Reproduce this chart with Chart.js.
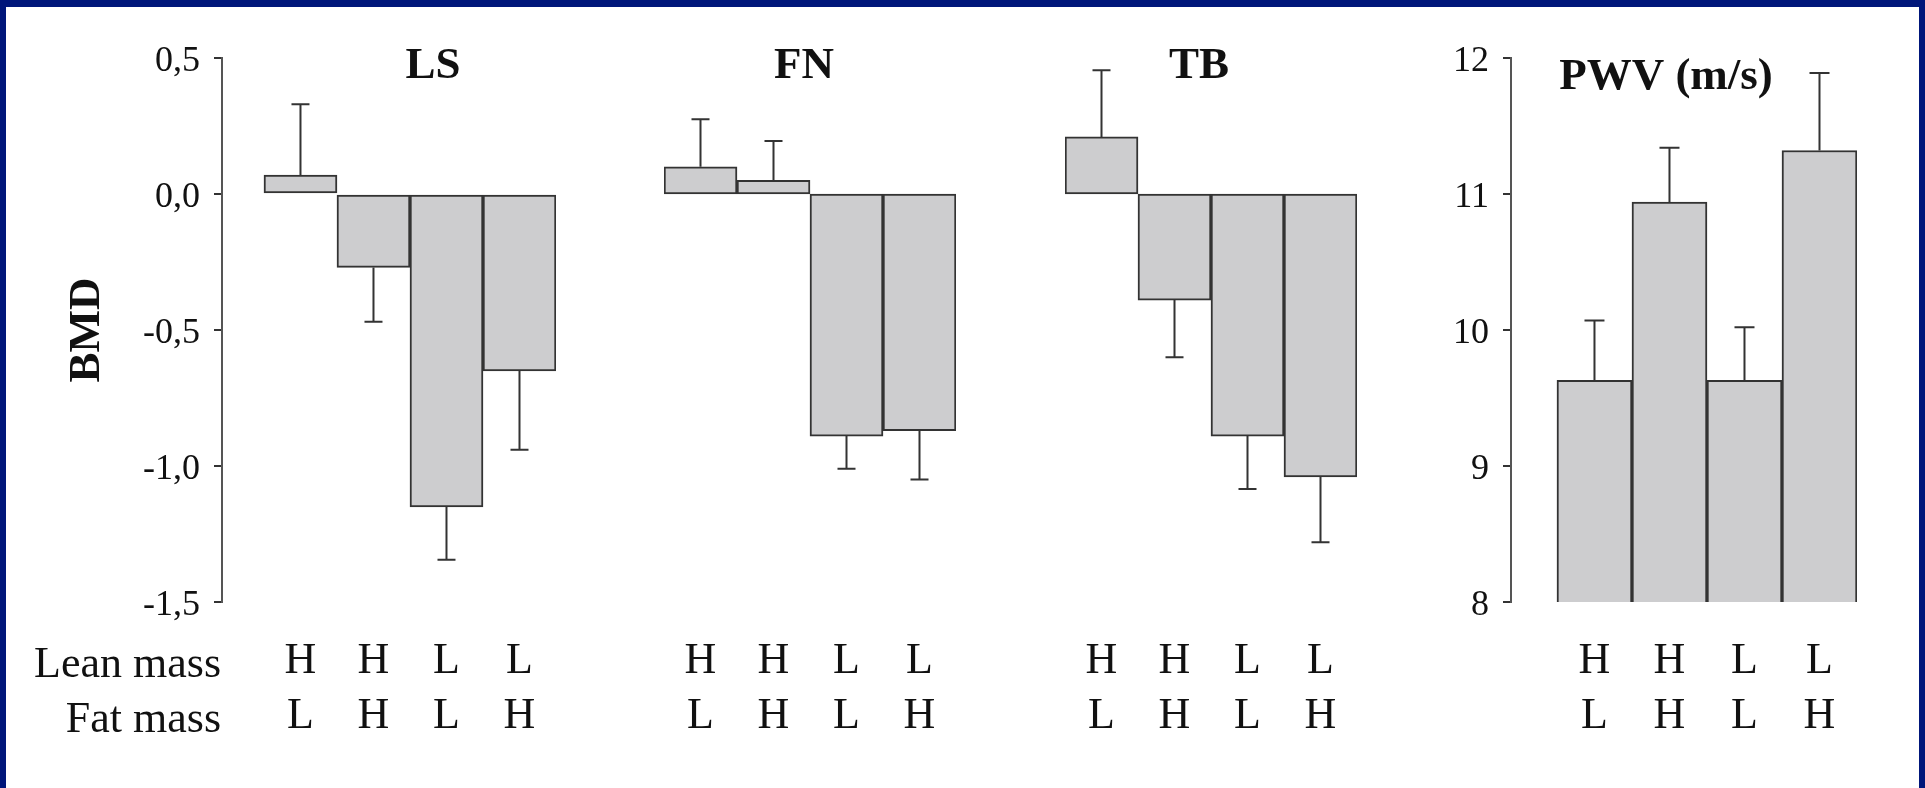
<!DOCTYPE html>
<html>
<head>
<meta charset="utf-8">
<title>BMD and PWV by lean / fat mass</title>
<script src="https://cdn.jsdelivr.net/npm/chart.js@4.4.1/dist/chart.umd.min.js"></script>
<style>
  html, body { margin: 0; padding: 0; background: #fff; }
  #page { position: relative; width: 1925px; height: 788px; overflow: hidden; background: #fff; }
  #page canvas { position: absolute; top: 0; }
  #frame { position: absolute; left: 0; top: 0; width: 1925px; height: 788px; box-sizing: border-box;
           border-style: solid; border-color: #00167a; border-width: 7px 6px 0 6px; pointer-events: none; }
</style>
</head>
<body>
<div id="page">
  <canvas id="lsChart" width="570" height="742" style="left:0px"></canvas>
  <canvas id="fnChart" width="380" height="742" style="left:620px"></canvas>
  <canvas id="tbChart" width="380" height="742" style="left:1021px"></canvas>
  <canvas id="pwvChart" width="480" height="742" style="left:1400px"></canvas>
  <div id="frame"></div>
</div>
<script>
// groups under each bar
const leanMass = ['H', 'H', 'L', 'L'];
const fatMass = ['L', 'H', 'L', 'H'];

// BMD per site: mean and error (one-sided bar)
const lsMean = [0.07, -0.27, -1.15, -0.65];
const lsErr = [0.26, 0.20, 0.195, 0.29];
const fnMean = [0.10, 0.05, -0.89, -0.87];
const fnErr = [0.175, 0.145, 0.12, 0.18];
const tbMean = [0.21, -0.39, -0.89, -1.04];
const tbErr = [0.245, 0.21, 0.195, 0.24];

// pulse wave velocity, m/s
const pwvMean = [9.63, 10.94, 9.63, 11.32];
const pwvErr = [0.44, 0.40, 0.39, 0.57];

const bmdTicks = [-1.5, -1.0, -0.5, 0.0, 0.5];
const pwvTicks = [8, 9, 10, 11, 12];

const INK = '#111';
const EDGE = '#333';
const BAR_FILL = '#cdcdcf';
const SERIF = '"Liberation Serif", "Times New Roman", serif';

Chart.defaults.font.family = SERIF;
Chart.defaults.color = INK;

// error whisker drawn away from the base, with a small cap
const errorBars = {
    id: 'errorBars',
    afterDatasetsDraw(chart, args, opts) {
        const { ctx } = chart;
        const y = chart.scales.y;
        chart.data.datasets.forEach((ds, di) => {
            if (!ds.errors) return;
            const meta = chart.getDatasetMeta(di);
            meta.data.forEach((bar, i) => {
                const v = ds.data[i].y;
                const end = v >= 0 ? v + ds.errors[i] : v - ds.errors[i];
                const y0 = y.getPixelForValue(v);
                const y1 = y.getPixelForValue(end);
                ctx.save();
                ctx.strokeStyle = EDGE;
                ctx.lineWidth = 2;
                ctx.beginPath();
                ctx.moveTo(bar.x, y0);
                ctx.lineTo(bar.x, y1);
                ctx.moveTo(bar.x - opts.cap / 2, y1);
                ctx.lineTo(bar.x + opts.cap / 2, y1);
                ctx.stroke();
                ctx.restore();
            });
        });
    }
};

const panelTitle = {
    id: 'panelTitle',
    afterDraw(chart, args, opts) {
        if (!opts.text) return;
        const ctx = chart.ctx;
        ctx.save();
        ctx.font = 'bold 45px ' + SERIF;
        ctx.fillStyle = INK;
        ctx.textAlign = 'center';
        ctx.textBaseline = 'alphabetic';
        ctx.fillText(opts.text, opts.x, opts.y);
        ctx.restore();
    }
};

// "Lean mass" / "Fat mass" row names left of the first panel
const rowNames = {
    id: 'rowNames',
    afterDraw(chart, args, opts) {
        if (!opts.names) return;
        const ctx = chart.ctx;
        ctx.save();
        ctx.font = '44px ' + SERIF;
        ctx.fillStyle = INK;
        ctx.textAlign = 'right';
        ctx.textBaseline = 'alphabetic';
        opts.names.forEach((n, i) => ctx.fillText(n, opts.x, opts.y[i]));
        ctx.restore();
    }
};

function makePanel(id, o) {
    const points = o.mean.map((v, i) => ({ x: i + 1, y: v }));
    return new Chart(document.getElementById(id), {
        type: 'bar',
        data: {
            datasets: [{
                data: points,
                errors: o.err,
                backgroundColor: BAR_FILL,
                borderColor: EDGE,
                borderWidth: 2,
                borderSkipped: false,
                barPercentage: 1,
                categoryPercentage: 1
            }]
        },
        options: {
            responsive: false,
            animation: false,
            devicePixelRatio: 1,
            layout: { padding: o.padding },
            plugins: {
                legend: { display: false },
                tooltip: { enabled: false },
                errorBars: { cap: o.cap },
                panelTitle: o.title,
                rowNames: o.rows || {}
            },
            scales: {
                x: {
                    type: 'linear',
                    offset: false,
                    min: o.xMin,
                    max: 4.5,
                    afterBuildTicks: s => { s.ticks = leanMass.map((_, i) => ({ value: i + 1 })); },
                    afterFit: s => { s.height = 140; },
                    grid: { display: false, drawTicks: false, offset: false },
                    border: { display: false },
                    ticks: {
                        padding: 32,
                        color: INK,
                        font: { size: 44, lineHeight: 1.25 },
                        callback: (v, i) => [leanMass[i], fatMass[i]]
                    }
                },
                y: {
                    min: o.ticks[0],
                    max: o.ticks[o.ticks.length - 1],
                    display: o.showY,
                    afterBuildTicks: s => { s.ticks = o.ticks.map(v => ({ value: v })); },
                    afterFit: s => { if (o.yWidth) s.width = o.yWidth; },
                    grid: { drawOnChartArea: false, drawTicks: true, tickLength: 8, color: EDGE, lineWidth: 2 },
                    border: { display: true, color: '#555', width: 2 },
                    ticks: { padding: 14, labelOffset: 4, color: INK, font: { size: 36 }, callback: o.fmt },
                    title: {
                        display: !!o.yTitle,
                        text: o.yTitle || '',
                        color: INK,
                        padding: 0,
                        font: { size: 45, weight: 'bold' }
                    }
                }
            }
        },
        plugins: [errorBars, panelTitle, rowNames]
    });
}

const bmdFmt = v => Number(v).toFixed(1).replace('.', ',');

makePanel('lsChart', {
    mean: lsMean, err: lsErr, ticks: bmdTicks, fmt: bmdFmt,
    showY: true, yWidth: 162, yTitle: 'BMD', xMin: -0.075, cap: 18,
    padding: { top: 58, left: 60, right: 14, bottom: 0 },
    title: { text: 'LS', x: 433, y: 78 },
    rows: { names: ['Lean mass', 'Fat mass'], x: 221, y: [677, 732] }
});
makePanel('fnChart', {
    mean: fnMean, err: fnErr, ticks: bmdTicks, fmt: bmdFmt,
    showY: false, xMin: 0.5, cap: 18,
    padding: { top: 58, left: 44, right: 44, bottom: 0 },
    title: { text: 'FN', x: 184, y: 78 }
});
makePanel('tbChart', {
    mean: tbMean, err: tbErr, ticks: bmdTicks, fmt: bmdFmt,
    showY: false, xMin: 0.5, cap: 18,
    padding: { top: 58, left: 44, right: 44, bottom: 0 },
    title: { text: 'TB', x: 178, y: 78 }
});
makePanel('pwvChart', {
    mean: pwvMean, err: pwvErr, ticks: pwvTicks, fmt: v => String(v),
    showY: true, yWidth: 111, xMin: -0.113, cap: 20,
    padding: { top: 58, left: 0, right: 23, bottom: 0 },
    title: { text: 'PWV (m/s)', x: 266, y: 89 }
});
</script>
</body>
</html>
